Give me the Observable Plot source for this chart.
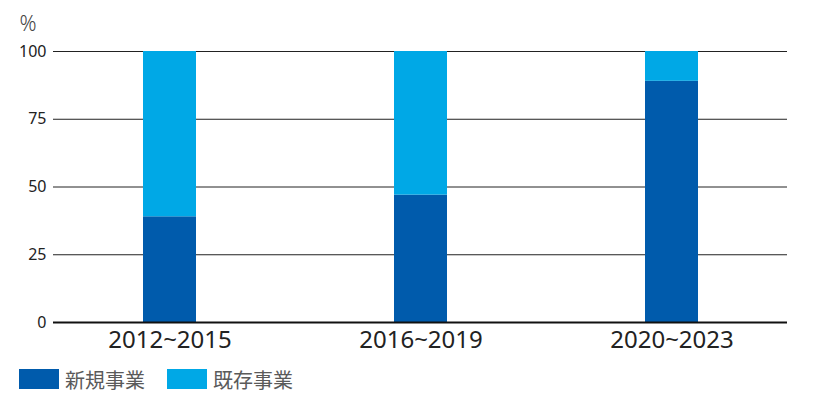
<!DOCTYPE html>
<html><head><meta charset="utf-8">
<script src="https://cdn.jsdelivr.net/npm/d3@7"></script>
<script src="https://cdn.jsdelivr.net/npm/@observablehq/plot@0.6"></script>
<style>
body{margin:0;background:#fff;font-family:"Noto Sans","Noto Sans CJK JP",sans-serif;}
#legend{display:flex;align-items:center;height:22px;margin-top:8px;padding-left:19px;font-size:20px;color:#5a5a5a;font-family:"Noto Sans CJK JP",sans-serif;}
.sw{width:40px;height:20px;display:inline-block;margin-right:6px;}
.item{display:flex;align-items:center;margin-right:22px;}
</style></head>
<body><div id="chart"></div><div id="legend"></div>
<script>
const periods = ["2012~2015","2016~2019","2020~2023"];
const seriesNames = ["新規事業","既存事業"];
const newBiz = [39, 47, 89];
const existingBiz = [61, 53, 11];
const colors = ["#005bac","#00a8e6"];
const yTicks = [0,25,50,75,100];

const data = [];
periods.forEach((p,i)=>{
  data.push({period:p, series:seriesNames[0], value:newBiz[i]});
  data.push({period:p, series:seriesNames[1], value:existingBiz[i]});
});

const chart = Plot.plot({
  width: 815, height: 360,
  marginLeft: 43, marginRight: 18, marginTop: 51, marginBottom: 38,
  style:{fontFamily:'"Noto Sans","Noto Sans CJK JP",sans-serif', background:"#fff"},
  x:{domain:periods, paddingInner:0.79, paddingOuter:0.395, label:null},
  y:{domain:[0,100], label:null},
  color:{domain:seriesNames, range:colors},
  marks:[
    Plot.ruleY(yTicks.filter(d=>d>0), {stroke:"#222", strokeWidth:1, insetLeft:10, insetRight:10}),
    Plot.barY(data, Plot.stackY({x:"period", y:"value", fill:"series", order: seriesNames})),
    Plot.ruleY([0], {stroke:"#111", strokeWidth:2, insetLeft:10, insetRight:10}),
    Plot.axisY({ticks:yTicks, tickSize:0, tickPadding:-3, fontSize:16, fill:"#222", label:null}),
    Plot.axisX({tickSize:0, tickPadding:8, fontSize:24, fill:"#222", label:null}),
    Plot.text(["%"], {frameAnchor:"top-left", dx:-24, dy:-35, text:d=>d, fontSize:21, fill:"#444", fontWeight:300, textAnchor:"start"})
  ]
});
document.getElementById("chart").appendChild(chart);

const lg = document.getElementById("legend");
seriesNames.forEach((n,i)=>{
  const it=document.createElement("span"); it.className="item";
  const sw=document.createElement("span"); sw.className="sw"; sw.style.background=colors[i];
  it.appendChild(sw); it.appendChild(document.createTextNode(n)); lg.appendChild(it);
});
</script></body></html>
